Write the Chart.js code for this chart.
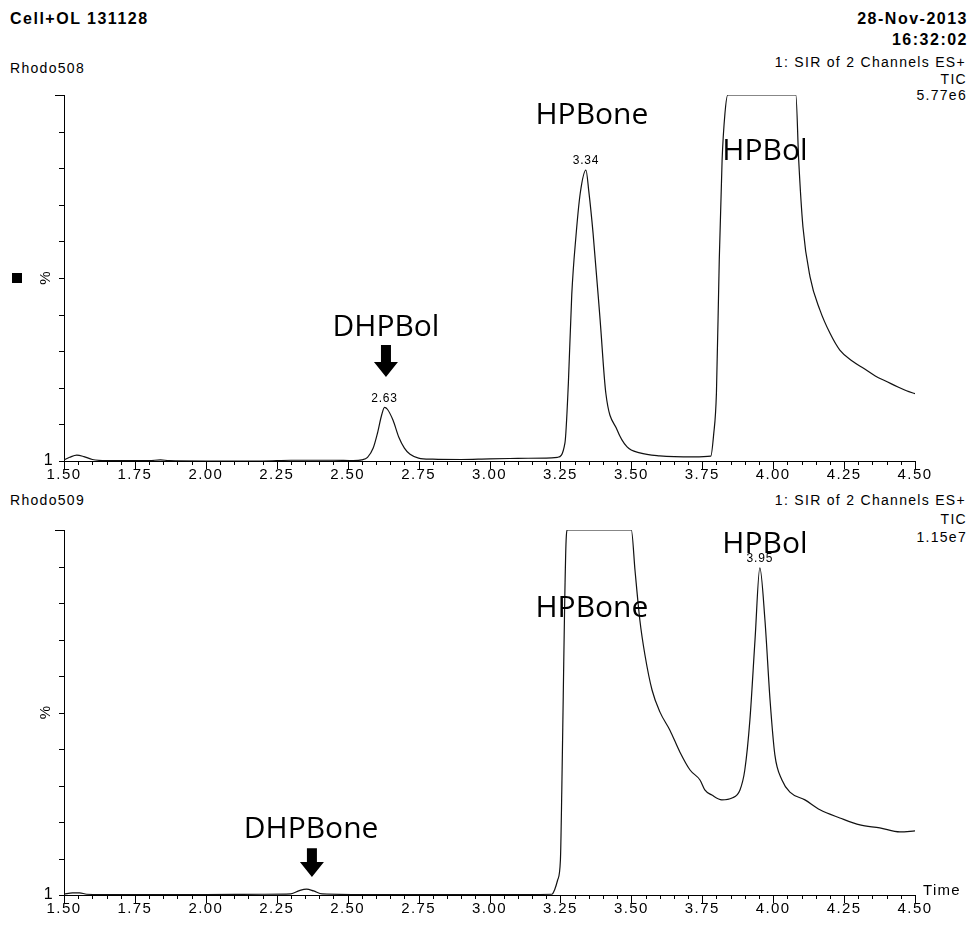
<!DOCTYPE html>
<html>
<head>
<meta charset="utf-8">
<script src="https://cdn.jsdelivr.net/npm/chart.js@4.4.1/dist/chart.umd.min.js"></script>
<style>
  html, body { margin: 0; padding: 0; background: #fff; }
  body { width: 976px; height: 926px; position: relative; overflow: hidden;
         font-family: "Liberation Sans", Arial, sans-serif; color: #000; }
  .txt { position: absolute; white-space: nowrap; font-size: 14px; letter-spacing: 1.3px; line-height: 14px; }
  .b { font-weight: bold; font-size: 16px; line-height: 16px; letter-spacing: 1.5px; }
  canvas { position: absolute; left: 0; }
</style>
</head>
<body>
<div class="txt b" style="left:10px;top:11px">Cell+OL 131128</div>
<div class="txt b" style="right:8px;top:11px">28-Nov-2013</div>
<div class="txt b" style="right:8px;top:32px">16:32:02</div>

<div class="txt" style="left:10px;top:61px">Rhodo508</div>
<div class="txt" style="right:10px;top:55px">1: SIR of 2 Channels ES+</div>
<div class="txt" style="right:9px;top:72px">TIC</div>
<div class="txt" style="right:9px;top:88px">5.77e6</div>

<div class="txt" style="left:10px;top:493px">Rhodo509</div>
<div class="txt" style="right:10px;top:493px">1: SIR of 2 Channels ES+</div>
<div class="txt" style="right:9px;top:512px">TIC</div>
<div class="txt" style="right:9px;top:530px">1.15e7</div>

<canvas id="chartTop" width="976" height="485" style="top:0"></canvas>
<canvas id="chartBottom" width="976" height="441" style="top:485px"></canvas>

<script>
// axis ticks
const xTickLabels = ['1.50', '1.75', '2.00', '2.25', '2.50', '2.75', '3.00', '3.25', '3.50', '3.75', '4.00', '4.25', '4.50'];
const yTickValues = [1, 10.9, 20.8, 30.7, 40.6, 50.5, 60.4, 70.3, 80.2, 90.1, 100];

// Rhodo508 trace (time in min, % of 5.77e6)
const timeTop = [1.50, 1.52, 1.545, 1.57, 1.60, 1.65, 1.80, 1.84, 1.87, 2.00, 2.20, 2.30, 2.45, 2.52,
  2.55, 2.57, 2.59, 2.605, 2.62, 2.63, 2.64, 2.66, 2.68, 2.70, 2.72, 2.75, 2.80, 2.90, 3.00, 3.10, 3.20,
  3.24, 3.266, 3.278, 3.29, 3.305, 3.32, 3.34, 3.35, 3.365, 3.39, 3.41, 3.45, 3.485, 3.53, 3.60, 3.72,
  3.78, 3.79, 3.80, 3.81, 3.82, 3.83, 3.84, 4.08, 4.09, 4.105, 4.13, 4.165, 4.20, 4.235, 4.28, 4.32,
  4.36, 4.40, 4.44, 4.47, 4.50];
const pctTop = [1.3, 2.0, 2.6, 2.2, 1.4, 1.1, 1.1, 1.3, 1.1, 1.0, 1.0, 1.2, 1.2, 1.1,
  1.3, 2.0, 4.5, 8.5, 13.5, 15.5, 15.0, 12.0, 7.5, 4.5, 2.8, 1.8, 1.5, 1.4, 1.6, 1.7, 1.8,
  2.0, 5.9, 22, 46, 62, 73.5, 79.7, 74, 62.7, 39.1, 19.4, 9.4, 4.8, 3.2, 2.4, 2.1,
  2.3, 8, 19.4, 55.4, 82.4, 95, 100, 100, 82.4, 64.3, 50.8, 41.8, 35.6, 31, 28, 26,
  24, 22.5, 21, 20, 19.2];
const peakTimesTop = [2.63, 3.34];

// Rhodo509 trace (time in min, % of 1.15e7)
const timeBottom = [1.50, 1.53, 1.555, 1.58, 1.70, 2.00, 2.20, 2.30, 2.33, 2.355, 2.38, 2.41, 2.60, 3.00,
  3.22, 3.23, 3.24, 3.25, 3.255, 3.26, 3.265, 3.27, 3.275, 3.50, 3.513, 3.53, 3.548, 3.573, 3.601, 3.636,
  3.671, 3.707, 3.742, 3.759, 3.784, 3.819, 3.855, 3.883, 3.90, 3.918, 3.936, 3.953, 3.971, 3.989, 4.006,
  4.031, 4.059, 4.112, 4.165, 4.235, 4.306, 4.376, 4.447, 4.50];
const pctBottom = [1.2, 1.6, 1.6, 1.2, 1.1, 1.1, 1.2, 1.3, 2.2, 2.6, 2.1, 1.3, 1.1, 1.1,
  1.2, 2.5, 5, 10.5, 30, 55, 80, 97, 100, 100, 89, 75.6, 66.1, 56.6, 50.6, 45.7,
  39.8, 34.9, 32.2, 29.5, 28.1, 26.8, 27.3, 29.5, 34.9, 48.5, 70.2, 89.7, 75.6, 53.9, 39.0,
  32.2, 28.9, 26.8, 24.1, 21.9, 20.0, 19.2, 18.1, 18.4];
const peakTimesBottom = [3.95];

const compoundsTop = ['DHPBol', 'HPBone', 'HPBol'];
const compoundsBottom = ['DHPBone', 'HPBone', 'HPBol'];

Chart.defaults.font.family = "'Liberation Sans', Arial, sans-serif";
Chart.defaults.color = '#000';

const xTickValues = xTickLabels.map(Number);

function decorPlugin(opts) {
  return {
    id: 'decor',
    beforeDraw(chart) {
      chart.ctx.letterSpacing = '1.4px';
    },
    afterDraw(chart) {
      const ctx = chart.ctx;
      const x = chart.scales.x, y = chart.scales.y, a = chart.chartArea;
      ctx.save();
      ctx.strokeStyle = '#000';
      ctx.lineWidth = 1;
      ctx.beginPath();
      // x major + minor ticks
      for (let i = 0; i < xTickValues.length; i++) {
        const px = Math.round(x.getPixelForValue(xTickValues[i])) + 0.5;
        ctx.moveTo(px, a.bottom); ctx.lineTo(px, a.bottom + 8);
        if (i < xTickValues.length - 1) {
          const step = (xTickValues[i + 1] - xTickValues[i]) / 5;
          for (let k = 1; k < 5; k++) {
            const mx = Math.round(x.getPixelForValue(xTickValues[i] + k * step)) + 0.5;
            ctx.moveTo(mx, a.bottom); ctx.lineTo(mx, a.bottom + 4);
          }
        }
      }
      // y ticks
      yTickValues.forEach((v, i) => {
        const py = Math.round(y.getPixelForValue(v)) + 0.5;
        const len = i === yTickValues.length - 1 ? 9 : 5;
        ctx.moveTo(a.left - len, py); ctx.lineTo(a.left, py);
      });
      ctx.stroke();

      ctx.fillStyle = '#000';
      ctx.letterSpacing = '0px';
      // % label
      ctx.save();
      ctx.translate(46, y.getPixelForValue(50.5));
      ctx.rotate(-Math.PI / 2);
      ctx.font = "15px 'Liberation Sans', Arial, sans-serif";
      ctx.textAlign = 'center';
      ctx.textBaseline = 'middle';
      ctx.fillText('%', 0, 0);
      ctx.restore();

      if (opts.marker) {
        const my = y.getPixelForValue(50.5);
        ctx.fillRect(12, Math.round(my) - 5, 10, 10);
      }

      // peak retention-time labels
      ctx.font = "12px 'Liberation Sans', Arial, sans-serif";
      ctx.letterSpacing = '0.8px';
      ctx.textAlign = 'center';
      ctx.textBaseline = 'bottom';
      opts.peaks.forEach(t => {
        let best = -1;
        opts.time.forEach((tt, i) => {
          if (Math.abs(tt - t) < 0.02 && (best < 0 || opts.pct[i] > opts.pct[best])) best = i;
        });
        const px = x.getPixelForValue(opts.time[best]);
        const py = y.getPixelForValue(opts.pct[best]);
        ctx.fillText(t.toFixed(2), px, py - 3);
      });

      // compound names
      ctx.letterSpacing = '0px';
      ctx.font = "30px 'Open Sans', 'Noto Sans', sans-serif";
      ctx.textBaseline = 'middle';
      opts.names.forEach((n, i) => {
        const p = opts.namePos[i];
        ctx.fillText(n, x.getPixelForValue(p[0]), y.getPixelForValue(p[1]));
      });

      // arrows
      opts.arrows.forEach(ar => {
        const cx = x.getPixelForValue(ar[0]);
        const top = y.getPixelForValue(ar[1]);
        const tip = y.getPixelForValue(ar[2]);
        const neck = tip - 15;
        ctx.beginPath();
        ctx.moveTo(cx - 5, top); ctx.lineTo(cx + 5, top);
        ctx.lineTo(cx + 5, neck); ctx.lineTo(cx + 12, neck);
        ctx.lineTo(cx, tip); ctx.lineTo(cx - 12, neck);
        ctx.lineTo(cx - 5, neck); ctx.closePath();
        ctx.fill();
      });

      if (opts.timeLabel) {
        ctx.font = "15px 'Liberation Sans', Arial, sans-serif";
        ctx.letterSpacing = '1.3px';
        ctx.textAlign = 'left';
        ctx.textBaseline = 'bottom';
        ctx.fillText('Time', a.right + 8, a.bottom + 3);
      }
      ctx.restore();
    }
  };
}

function makeChart(id, time, pct, pad, decor) {
  return new Chart(document.getElementById(id), {
    type: 'line',
    data: {
      datasets: [{
        data: time.map((t, i) => ({ x: t, y: pct[i] })),
        borderColor: '#111',
        borderWidth: 1.2,
        pointRadius: 0,
        cubicInterpolationMode: 'monotone',
        fill: false
      }]
    },
    options: {
      responsive: false,
      animation: false,
      layout: { padding: pad },
      plugins: { legend: { display: false }, tooltip: { enabled: false } },
      scales: {
        x: {
          type: 'linear', min: 1.5, max: 4.5,
          afterBuildTicks: s => { s.ticks = xTickValues.map(v => ({ value: v })); },
          afterFit: s => { s.height = 22; },
          grid: { display: false, drawTicks: false },
          border: { display: true, color: '#000', width: 1 },
          ticks: { callback: v => Number(v).toFixed(2), autoSkip: false, maxRotation: 0,
                   padding: 5, font: { size: 15 }, color: '#000' }
        },
        y: {
          type: 'linear', min: 1, max: 100,
          afterBuildTicks: s => { s.ticks = yTickValues.map(v => ({ value: v })); },
          afterFit: s => { s.width = 64; },
          grid: { display: false, drawTicks: false },
          border: { display: true, color: '#000', width: 1 },
          ticks: { callback: (v, i) => (i === 0 ? '1' : ''), padding: 10,
                   font: { size: 16 }, color: '#000' }
        }
      }
    },
    plugins: [decorPlugin(decor)]
  });
}

makeChart('chartTop', timeTop, pctTop, { left: 0, right: 61, top: 95, bottom: 2 }, {
  time: timeTop, pct: pctTop, peaks: peakTimesTop, marker: true,
  names: compoundsTop,
  namePos: [[2.635, 37], [3.361, 94.6], [3.971, 84.6]],
  arrows: [[2.635, 32.4, 23.7]]
});

makeChart('chartBottom', timeBottom, pctBottom, { left: 0, right: 61, top: 45, bottom: 9 }, {
  time: timeBottom, pct: pctBottom, peaks: peakTimesBottom, marker: false, timeLabel: true,
  names: compoundsBottom,
  namePos: [[2.371, 18.9], [3.361, 78.8], [3.971, 96]],
  arrows: [[2.374, 13.7, 5.9]]
});
</script>
</body>
</html>
